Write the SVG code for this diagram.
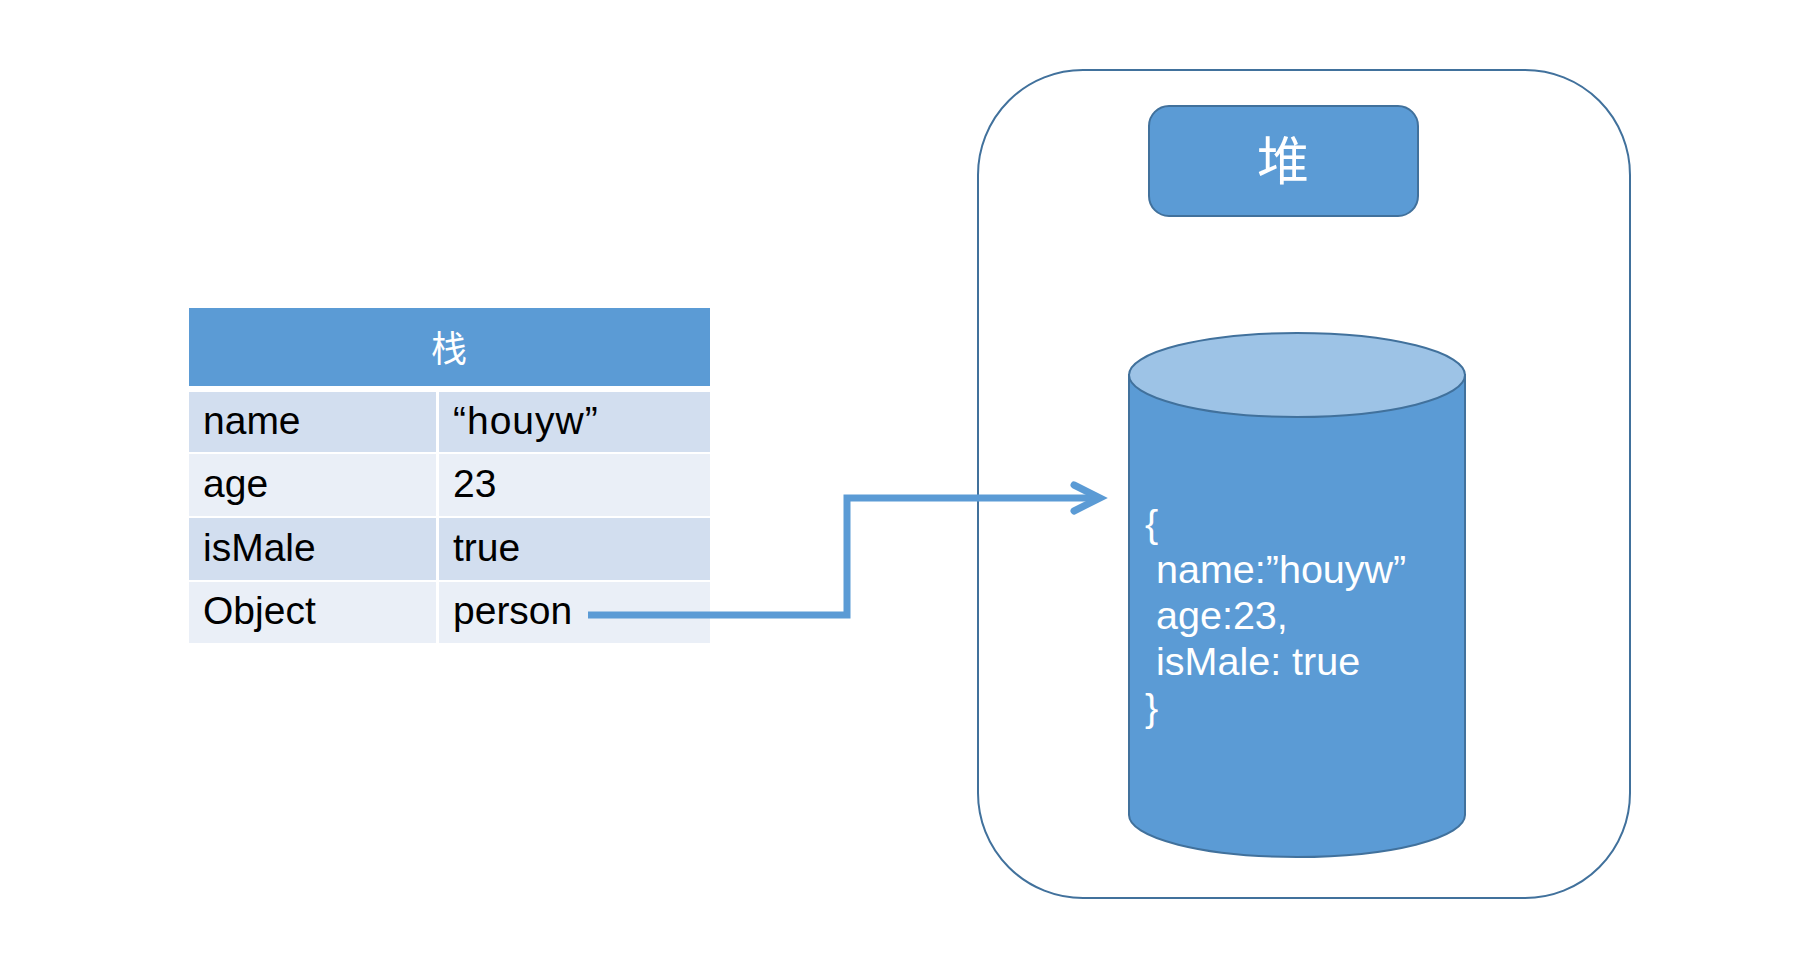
<svg xmlns="http://www.w3.org/2000/svg" width="1814" height="980" viewBox="0 0 1814 980">
<style>
.hdr{fill:#5B9BD5}
.dark{fill:#D2DEEF}
.light{fill:#EAEFF7}
.cell{font-family:"Liberation Sans",Arial,sans-serif;font-size:39px;fill:#000}
.wt{font-family:"Liberation Sans",Arial,sans-serif;font-size:39.5px;fill:#fff}
.cjk{font-family:"Noto Sans CJK SC","Noto Sans CJK TC",sans-serif;fill:#fff;text-anchor:middle}
.outline{stroke:#41719C;stroke-width:2}
.conn{fill:none;stroke:#5B9BD5;stroke-width:7}
</style>
<defs>
<marker id="arrow" markerUnits="userSpaceOnUse" markerWidth="40" markerHeight="40" refX="30" refY="20" orient="auto" viewBox="0 0 40 40">
<polyline points="4,7 30,20 4,33" fill="none" stroke="#5B9BD5" stroke-width="7" stroke-linecap="round" stroke-linejoin="miter"/>
</marker>
</defs>
<rect width="1814" height="980" fill="#fff"/>
<g id="stack">
<rect class="hdr" x="189" y="308" width="521" height="78"/>
<text class="cjk" x="449" y="362" font-size="36">栈</text>
<rect class="dark" x="189" y="392" width="247" height="60"/>
<rect class="dark" x="439" y="392" width="271" height="60"/>
<rect class="light" x="189" y="454" width="247" height="62"/>
<rect class="light" x="439" y="454" width="271" height="62"/>
<rect class="dark" x="189" y="518" width="247" height="62"/>
<rect class="dark" x="439" y="518" width="271" height="62"/>
<rect class="light" x="189" y="582" width="247" height="61"/>
<rect class="light" x="439" y="582" width="271" height="61"/>
<text class="cell" x="203" y="434">name</text>
<text class="cell" x="453" y="434" letter-spacing="1">“houyw”</text>
<text class="cell" x="203" y="497">age</text>
<text class="cell" x="453" y="497">23</text>
<text class="cell" x="203" y="561">isMale</text>
<text class="cell" x="453" y="561">true</text>
<text class="cell" x="203" y="624">Object</text>
<text class="cell" x="453" y="624">person</text>
</g>
<g id="heap">
<rect class="outline" x="978" y="70" width="652" height="828" rx="105" ry="105" fill="#fff"/>
</g>
<g id="heap-title">
<rect class="outline" x="1149" y="106" width="269" height="110" rx="20" ry="20" fill="#5B9BD5"/>
<text class="cjk" x="1283" y="180" font-size="52">堆</text>
</g>
<g id="heap-object">
<path class="outline" d="M1129,375 L1129,815 A168,42 0 0 0 1465,815 L1465,375 Z" fill="#5B9BD5"/>
<ellipse class="outline" cx="1297" cy="375" rx="168" ry="42" fill="#9DC3E6"/>
<text class="wt" x="1145" y="537">{</text>
<text class="wt" x="1156" y="583">name:”houyw”</text>
<text class="wt" x="1156" y="629">age:23,</text>
<text class="wt" x="1156" y="675">isMale: true</text>
<text class="wt" x="1145" y="721">}</text>
</g>
<g id="connectors">
<path class="conn" d="M588,615 H847 V498 H1100" marker-end="url(#arrow)"/>
</g>
</svg>
